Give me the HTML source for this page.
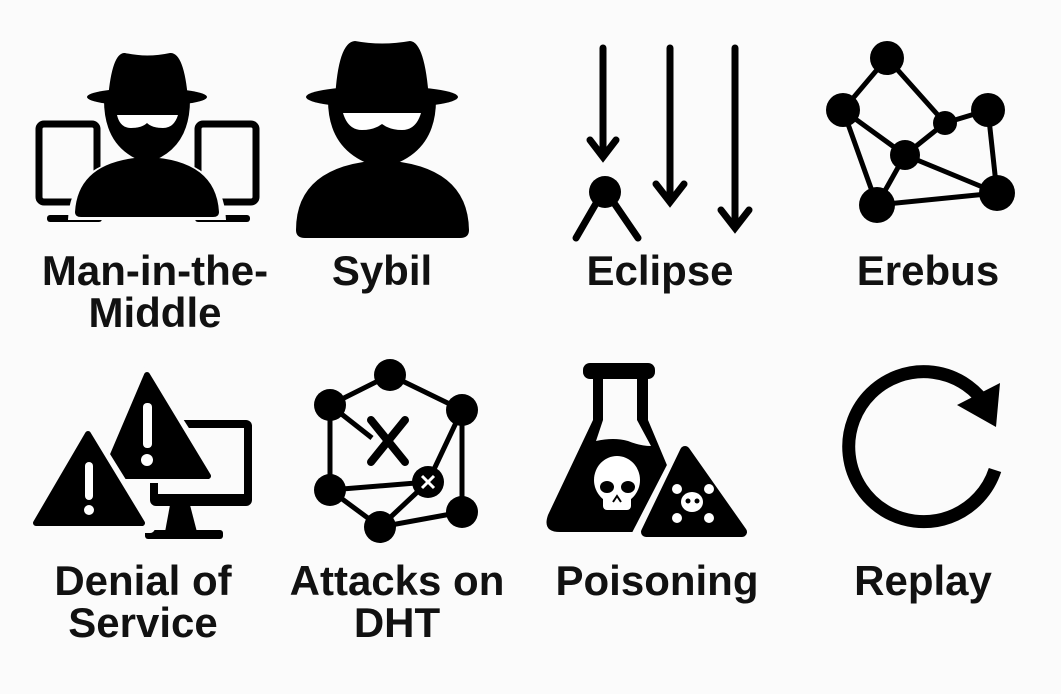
<!DOCTYPE html>
<html><head><meta charset="utf-8"><style>
html,body{margin:0;padding:0;background:#fbfbfb}
svg{display:block}
text{font-family:"Liberation Sans",sans-serif;font-weight:bold;font-size:42px;fill:#111;text-anchor:middle}
</style></head><body>
<svg width="1061" height="694" viewBox="0 0 1061 694">
<rect width="1061" height="694" fill="#fbfbfb"/>
<!-- MITM -->
<g>
 <rect x="39" y="124" width="58" height="78" rx="5" fill="none" stroke="#000" stroke-width="7"/>
 <rect x="198" y="124" width="58" height="78" rx="5" fill="none" stroke="#000" stroke-width="7"/>
 <rect x="47" y="215" width="55" height="7" rx="3"/>
 <rect x="195" y="215" width="55" height="7" rx="3"/>
 <path d="M68 220 Q70 160 147 156 Q224 160 226 220 Z" fill="#fbfbfb"/>
 <path d="M75 212 Q78 160 147 157 Q216 160 219 212 Q219 217 213 217 L81 217 Q75 217 75 212Z"/>
 <path d="M104 100 Q104 150 147 163 Q190 150 190 100Z"/>
 <ellipse cx="147" cy="97" rx="60" ry="9"/>
 <path d="M108 99 Q112 52 125 53 Q147 58 170 53 Q184 52 188 99Z"/>
 <path d="M117 115 L178 115 Q174 128 163 128 Q152 128 147 123 Q142 128 131 128 Q120 128 117 115Z" fill="#fff"/>
</g>
<!-- Sybil -->
<g>
 <path d="M296 230 Q296 165 382 160 Q468 165 469 230 Q469 238 460 238 L305 238 Q296 238 296 230Z"/>
 <path d="M328 100 Q328 155 382 168 Q436 155 436 100Z"/>
 <ellipse cx="382" cy="97" rx="76" ry="11"/>
 <path d="M335 100 Q338 42 355 41 Q382 46 410 41 Q425 42 429 100Z"/>
 <path d="M343 113 L421 113 Q416 130 402 130 Q390 130 382 124 Q374 130 362 130 Q348 130 343 113Z" fill="#fff"/>
</g>
<!-- Eclipse -->
<g stroke="#000" stroke-width="7" fill="none" stroke-linecap="round">
 <line x1="603" y1="48" x2="603" y2="155"/><path d="M590 140 L603 157 L616 140"/>
 <line x1="670" y1="48" x2="670" y2="200"/><path d="M656 184 L670 202 L684 184"/>
 <line x1="735" y1="48" x2="735" y2="226"/><path d="M721 210 L735 228 L749 210"/>
 <circle cx="605" cy="192" r="16" fill="#000" stroke="none"/>
 <line x1="598" y1="200" x2="576" y2="238"/><line x1="612" y1="200" x2="638" y2="238"/>
</g>
<!-- Erebus -->
<g stroke="#000" stroke-width="5">
 <line x1="887" y1="58" x2="843" y2="110"/><line x1="887" y1="58" x2="945" y2="123"/>
 <line x1="945" y1="123" x2="988" y2="110"/><line x1="988" y1="110" x2="997" y2="193"/>
 <line x1="843" y1="110" x2="905" y2="155"/><line x1="843" y1="110" x2="877" y2="205"/>
 <line x1="905" y1="155" x2="877" y2="205"/><line x1="905" y1="155" x2="997" y2="193"/>
 <line x1="877" y1="205" x2="997" y2="193"/><line x1="905" y1="155" x2="945" y2="123"/>
 <g stroke="none"><circle cx="887" cy="58" r="17"/><circle cx="843" cy="110" r="17"/><circle cx="945" cy="123" r="12"/><circle cx="988" cy="110" r="17"/><circle cx="905" cy="155" r="15"/><circle cx="877" cy="205" r="18"/><circle cx="997" cy="193" r="18"/></g>
</g>
<!-- DoS -->
<g>
 <rect x="150" y="420" width="102" height="86" rx="6"/>
 <rect x="158" y="428" width="86" height="66" fill="#fbfbfb"/>
 <path d="M170 505 L190 505 L197 532 L165 532Z"/>
 <rect x="145" y="530" width="78" height="9" rx="3"/>
 <path d="M147 372 L215 478 L96 478Z" fill="#fbfbfb" stroke="#fbfbfb" stroke-width="10" stroke-linejoin="round"/>
 <path d="M147 375 L208 476 L104 476Z" stroke="#000" stroke-width="6" stroke-linejoin="round"/>
 <rect x="143" y="403" width="9" height="45" rx="4" fill="#fff"/><circle cx="147" cy="460" r="6" fill="#fff"/>
 <path d="M88 428 L150 528 L28 528Z" fill="#fbfbfb" stroke="#fbfbfb" stroke-width="10" stroke-linejoin="round"/>
 <path d="M88 434 L142 523 L36 523Z" stroke="#000" stroke-width="6" stroke-linejoin="round"/>
 <rect x="85" y="462" width="8" height="38" rx="4" fill="#fff"/><circle cx="89" cy="510" r="5" fill="#fff"/>
</g>
<!-- DHT -->
<g stroke="#000" stroke-width="5">
 <line x1="390" y1="375" x2="330" y2="405"/><line x1="390" y1="375" x2="462" y2="410"/>
 <line x1="330" y1="405" x2="330" y2="490"/><line x1="330" y1="405" x2="372" y2="438"/>
 <line x1="462" y1="410" x2="462" y2="512"/><line x1="462" y1="410" x2="428" y2="482"/>
 <line x1="330" y1="490" x2="428" y2="482"/><line x1="330" y1="490" x2="380" y2="527"/>
 <line x1="380" y1="527" x2="428" y2="482"/><line x1="380" y1="527" x2="462" y2="512"/>
 <g stroke-width="8" stroke-linecap="round"><line x1="371" y1="420" x2="405" y2="462"/><line x1="405" y1="420" x2="371" y2="462"/></g>
 <g stroke="none"><circle cx="390" cy="375" r="16"/><circle cx="330" cy="405" r="16"/><circle cx="462" cy="410" r="16"/><circle cx="330" cy="490" r="16"/><circle cx="380" cy="527" r="16"/><circle cx="462" cy="512" r="16"/><circle cx="428" cy="482" r="16"/></g>
 <g stroke="#fff" stroke-width="3"><line x1="422" y1="476" x2="434" y2="488"/><line x1="434" y1="476" x2="422" y2="488"/></g>
</g>
<!-- Poisoning -->
<g>
 <rect x="583" y="363" width="72" height="16" rx="7"/>
 <path d="M593 376 L648 376 L648 420 L690 520 Q694 532 680 532 L560 532 Q542 532 548 515 L593 420Z"/>
 <path d="M603 379 L637 379 L637 420 L651 446 Q640 446 628 441 Q614 437 596 441 L603 420Z" fill="#fbfbfb"/>
 <ellipse cx="617" cy="480" rx="23" ry="24" fill="#fff"/><rect x="603" y="490" width="28" height="20" rx="4" fill="#fff"/>
 <ellipse cx="607" cy="487" rx="7" ry="6"/><ellipse cx="628" cy="487" rx="7" ry="6"/>
 <path d="M613 502 L617 496 L621 502" fill="none" stroke="#000" stroke-width="2"/>
 <path d="M685 443 L752 542 L634 542Z" fill="#fbfbfb" stroke="#fbfbfb" stroke-width="12" stroke-linejoin="round"/>
 <path d="M685 451 L742 532 L646 532Z" stroke="#000" stroke-width="10" stroke-linejoin="round"/>
 <ellipse cx="692" cy="502" rx="11" ry="10" fill="#fff"/>
 <g fill="#fff"><circle cx="677" cy="489" r="5"/><circle cx="709" cy="489" r="5"/><circle cx="677" cy="518" r="5"/><circle cx="709" cy="518" r="5"/></g>
 <circle cx="688" cy="501" r="2.5"/><circle cx="697" cy="501" r="2.5"/>
</g>
<!-- Replay -->
<g>
 <path d="M988 408 A75 75 0 1 0 995 470" fill="none" stroke="#000" stroke-width="13"/>
 <path d="M957 405 L1000 383 L996 427Z"/>
</g>
<text x="155" y="285">Man-in-the-</text>
<text x="155" y="327">Middle</text>
<text x="382" y="285">Sybil</text>
<text x="660" y="285">Eclipse</text>
<text x="928" y="285">Erebus</text>
<text x="143" y="595">Denial of</text>
<text x="143" y="637">Service</text>
<text x="397" y="595">Attacks on</text>
<text x="397" y="637">DHT</text>
<text x="657" y="595">Poisoning</text>
<text x="923" y="595">Replay</text>
</svg>
</body></html>
